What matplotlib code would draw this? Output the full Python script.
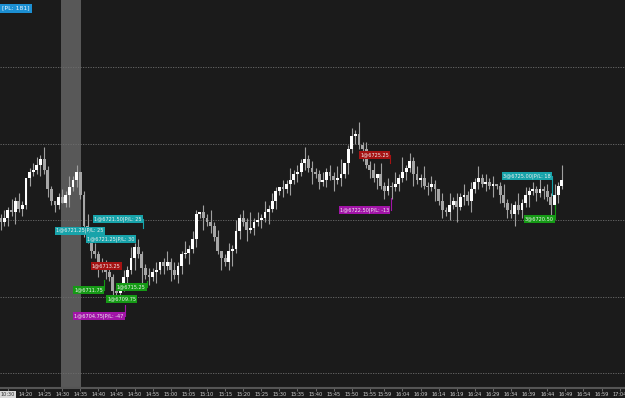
import numpy as np
import matplotlib.pyplot as plt

# one-minute bars, minutes counted from 14:15
start_min = -2
closes = [
    6719.75, 6720.25, 6721.25, 6721.0, 6722.5, 6721.5, 6722.0, 6725.5, 6726.25, 6726.5,
    6727.25, 6728.0, 6726.5, 6724.0, 6722.5, 6722.0, 6723.0, 6722.25, 6723.25, 6724.25,
    6725.25, 6726.25, 6723.25, 6719.25, 6717.5, 6716.0, 6715.5, 6714.5, 6713.75, 6713.25,
    6712.5, 6710.75, 6710.5, 6711.25, 6712.5, 6713.5, 6715.0, 6716.5, 6715.5, 6713.75,
    6712.75, 6712.5, 6713.25, 6713.5, 6714.5, 6714.0, 6714.5, 6713.5, 6712.75, 6714.0,
    6715.5, 6715.75, 6716.25, 6717.5, 6720.75, 6721.0, 6720.25, 6719.75, 6719.25, 6717.75,
    6716.0, 6715.0, 6714.5, 6716.0, 6716.25, 6718.5, 6720.25, 6719.75, 6718.75, 6719.0,
    6719.75, 6720.0, 6720.25, 6721.0, 6721.5, 6722.5, 6723.75, 6724.25, 6724.0, 6724.75,
    6725.25, 6726.0, 6726.25, 6727.5, 6728.0, 6726.75, 6726.25, 6726.0, 6725.0, 6725.25,
    6726.25, 6725.75, 6725.25, 6725.5, 6726.0, 6727.5, 6729.25, 6731.0, 6731.25, 6729.75,
    6729.25, 6727.25, 6726.5, 6725.5, 6726.0, 6724.5, 6723.75, 6724.5, 6724.25, 6724.75,
    6725.5, 6726.25, 6726.75, 6727.75, 6726.0, 6725.25, 6725.5, 6724.5, 6724.25, 6724.75,
    6724.0, 6722.5, 6721.25, 6721.0, 6722.0, 6722.5, 6721.75, 6723.0, 6723.25, 6722.5,
    6724.0, 6725.0, 6725.5, 6724.75, 6725.0, 6724.5, 6724.75, 6724.5, 6723.25, 6722.25,
    6721.25, 6720.75, 6722.0, 6721.25, 6722.25, 6723.25, 6723.75, 6724.0, 6723.5, 6724.0,
    6723.75, 6723.0, 6722.0, 6723.25, 6724.5, 6725.25,
]
first_open = 6720.25
# wick lengths in half points, one digit per bar
up_wick = ("1213121012" "2131101213" "1201312112" "2110213121" "1212013121"
           "1312102131" "2012131214" "1213121021" "3121312112" "1213401213"
           "1212031213" "1412121312" "1021312131" "2131212013" "1213121213" "121314")
down_wick = ("2121312121" "1312121013" "1213121412" "1312121315" "1213121312"
             "2131213121" "1312412131" "2121312121" "3121213121" "2131213121"
             "3121312131" "2121312121" "3121214121" "3121213121" "2131213121" "213121")

tick_mins = [0, 5, 10, 15, 20, 25, 30, 35, 40, 45, 50, 55, 60, 65, 70, 75, 80, 85, 90, 95,
             100, 104, 109, 114, 119, 124, 129, 134, 139, 144, 149, 154, 159, 164, 169]
tick_labels = ["10:30", "14:20", "14:25", "14:30", "14:35", "14:40", "14:45", "14:50", "14:55",
               "15:00", "15:05", "15:10", "15:15", "15:20", "15:25", "15:30", "15:35", "15:40",
               "15:45", "15:50", "15:55", "15:59", "16:04", "16:09", "16:14", "16:19", "16:24",
               "16:29", "16:34", "16:39", "16:44", "16:49", "16:54", "16:59", "17:04"]
grid_prices = [6700, 6710, 6720, 6730, 6740]

# trade markers
trade_text = ["1@6721.50|P/L: 25", "1@6721.25|P/L: 25", "1@6721.25|P/L: 30", "3@6725.00|P/L: 18",
              "1@6713.25", "1@6725.25",
              "1@6711.75", "1@6715.25", "1@6709.75", "3@6720.50",
              "1@6704.75|P/L: -47", "1@6722.50|P/L: -13"]
trade_kind = ["cyan", "cyan", "cyan", "cyan", "red", "red",
              "green", "green", "green", "green", "purple", "purple"]
trade_min = [23.8, 13.3, 21.8, 136.8, 23.2, 97.3, 18.3, 30.1, 27.4, 142.8, 18.3, 91.7]
trade_price = [6720.1, 6718.6, 6717.5, 6725.75, 6714.0, 6728.5,
               6710.85, 6711.25, 6709.7, 6720.1, 6707.45, 6721.3]
trade_link = [6719.0, None, None, 6723.25, None, 6727.45,
              6712.2, 6712.0, None, 6722.0, 6708.9, 6722.9]

kind_colors = {"cyan": "#17a3aa", "red": "#a51212", "green": "#159a15", "purple": "#a214a8"}

bg = "#1b1b1b"
fig = plt.figure(figsize=(6.25, 3.98), dpi=100, facecolor=bg)
ax = fig.add_axes([0, 10 / 398, 1, 388 / 398])
ax.set_facecolor(bg)

ax.set_xlim(-2.18, 170.47)
ax.set_ylim(6698.04, 6748.76)

# highlighted session band
ax.axvspan(14.7, 20.2, color="#585858", zorder=0, lw=0)

for p in grid_prices:
    ax.axhline(p, color="#6e6e6e", lw=0.6, dashes=(1.5, 1.5), zorder=1)

n = len(closes)
xs = np.arange(n) + start_min
opens = [first_open] + closes[:-1]
for i in range(n):
    o, c = opens[i], closes[i]
    hi = max(o, c) + int(up_wick[i]) * 0.5
    lo = min(o, c) - int(down_wick[i]) * 0.5
    ax.vlines(xs[i], lo, hi, color="#a0a0a0", lw=0.8, zorder=2)
    body_col = "#ffffff" if c >= o else "#a6a6a6"
    h = max(abs(c - o), 0.15)
    ax.bar(xs[i], h, bottom=min(o, c), width=0.78, color=body_col, lw=0, zorder=3)

for txt, kind, m, p, link in zip(trade_text, trade_kind, trade_min, trade_price, trade_link):
    col = kind_colors[kind]
    t = ax.text(m, p, txt, fontsize=3.6, color="#f0f0f0", va="center", ha="left", zorder=6,
                bbox=dict(boxstyle="square,pad=0.25", fc=col, ec="none"))
    if link is not None:
        fig.canvas.draw()
        bb = t.get_window_extent().transformed(ax.transData.inverted())
        ax.plot([bb.x1 + 0.4, bb.x1 + 0.4], [p, link], color=col, lw=0.8, zorder=5)

ax.text(0.004, 0.979, "[PL: 181]", transform=ax.transAxes, fontsize=4.4, color="#e8f4ff",
        va="center", ha="left", bbox=dict(boxstyle="square,pad=0.35", fc="#1c8fd2", ec="none"))

for s in ["top", "left", "right"]:
    ax.spines[s].set_visible(False)
ax.spines["bottom"].set_color("#555555")
ax.spines["bottom"].set_linewidth(1.5)
ax.set_yticks([])
ax.set_xticks(tick_mins)
ax.set_xticklabels(tick_labels, fontsize=3.6, color="#d0d0d0")
ax.tick_params(axis="x", length=2, width=0.5, color="#8a8a8a", pad=1)
ax.get_xticklabels()[0].set_bbox(dict(boxstyle="square,pad=0.2", fc="#d8d8d8", ec="none"))
ax.get_xticklabels()[0].set_color("#303030")

fig.savefig("out.png", dpi=100, facecolor=bg)
